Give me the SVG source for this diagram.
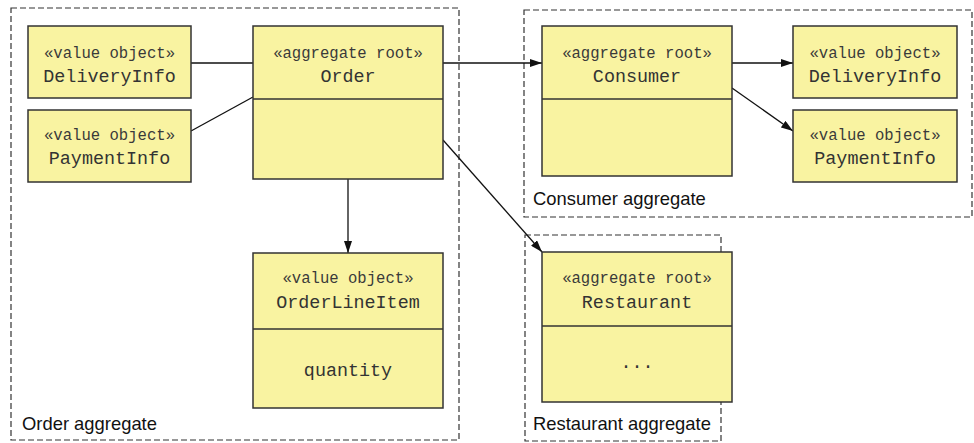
<svg xmlns="http://www.w3.org/2000/svg" width="974" height="443" viewBox="0 0 974 443">
<style>
.agg{fill:none;stroke:#333;stroke-width:1.2;stroke-dasharray:6,3}
.box{fill:#F9F3A1;stroke:#333;stroke-width:1.5}
.div{stroke:#333;stroke-width:1.5}
.st{font-family:"Liberation Mono",monospace;font-size:15.6px;fill:#3a3a3a;text-anchor:middle}
.nm{font-family:"Liberation Mono",monospace;font-size:18.4px;fill:#333;text-anchor:middle}
.lbl{font-family:"Liberation Sans",Arial,sans-serif;font-size:18.4px;fill:#111}
.con{stroke:#111;stroke-width:1.3;fill:none}
</style>
<defs>
<marker id="arr" viewBox="0 0 12 8" refX="12" refY="4" markerWidth="12" markerHeight="8" markerUnits="userSpaceOnUse" orient="auto">
<path d="M0,0 L12,4 L0,8 Z" fill="#111"/>
</marker>
</defs>
<rect width="974" height="443" fill="#fff"/>

<g id="order-aggregate">
<rect class="agg" x="11" y="8" width="448" height="432"/>
<text class="lbl" x="22" y="430">Order aggregate</text>
</g>
<g id="consumer-aggregate">
<rect class="agg" x="524" y="10" width="448" height="207"/>
<text class="lbl" x="533" y="205">Consumer aggregate</text>
</g>
<g id="restaurant-aggregate">
<rect class="agg" x="525" y="235" width="196" height="206"/>
<text class="lbl" x="533" y="430">Restaurant aggregate</text>
</g>

<g id="connectors">
<line class="con" x1="191" y1="63" x2="253" y2="63"/>
<line class="con" x1="191" y1="131" x2="253" y2="97"/>
<line class="con" x1="443" y1="63" x2="542" y2="63" marker-end="url(#arr)"/>
<line class="con" x1="443" y1="140" x2="542" y2="252" marker-end="url(#arr)"/>
<line class="con" x1="348" y1="179" x2="348" y2="253" marker-end="url(#arr)"/>
<line class="con" x1="732" y1="63" x2="793" y2="63" marker-end="url(#arr)"/>
<line class="con" x1="732" y1="88" x2="793" y2="131" marker-end="url(#arr)"/>
</g>

<g id="delivery-info-left">
<rect class="box" x="28" y="26" width="163" height="72"/>
<text class="st" x="109.5" y="58">«value object»</text>
<text class="nm" x="109.5" y="82">DeliveryInfo</text>
</g>
<g id="payment-info-left">
<rect class="box" x="28" y="110" width="163" height="72"/>
<text class="st" x="109.5" y="140">«value object»</text>
<text class="nm" x="109.5" y="164">PaymentInfo</text>
</g>
<g id="order">
<rect class="box" x="253" y="26" width="190" height="153"/>
<line class="div" x1="253" y1="99" x2="443" y2="99"/>
<text class="st" x="348" y="58">«aggregate root»</text>
<text class="nm" x="348" y="82">Order</text>
</g>
<g id="order-line-item">
<rect class="box" x="253" y="253" width="190" height="155"/>
<line class="div" x1="253" y1="329" x2="443" y2="329"/>
<text class="st" x="348" y="283">«value object»</text>
<text class="nm" x="348" y="308">OrderLineItem</text>
<text class="nm" x="348" y="376">quantity</text>
</g>
<g id="consumer">
<rect class="box" x="542" y="26" width="190" height="150"/>
<line class="div" x1="542" y1="99" x2="732" y2="99"/>
<text class="st" x="637" y="58">«aggregate root»</text>
<text class="nm" x="637" y="82">Consumer</text>
</g>
<g id="delivery-info-right">
<rect class="box" x="793" y="26" width="164" height="72"/>
<text class="st" x="875" y="58">«value object»</text>
<text class="nm" x="875" y="82">DeliveryInfo</text>
</g>
<g id="payment-info-right">
<rect class="box" x="793" y="110" width="164" height="72"/>
<text class="st" x="875" y="140">«value object»</text>
<text class="nm" x="875" y="164">PaymentInfo</text>
</g>
<g id="restaurant">
<rect class="box" x="542" y="252" width="190" height="150"/>
<line class="div" x1="542" y1="326" x2="732" y2="326"/>
<text class="st" x="637" y="283">«aggregate root»</text>
<text class="nm" x="637" y="308">Restaurant</text>
<text class="nm" x="637" y="368">...</text>
</g>
</svg>
